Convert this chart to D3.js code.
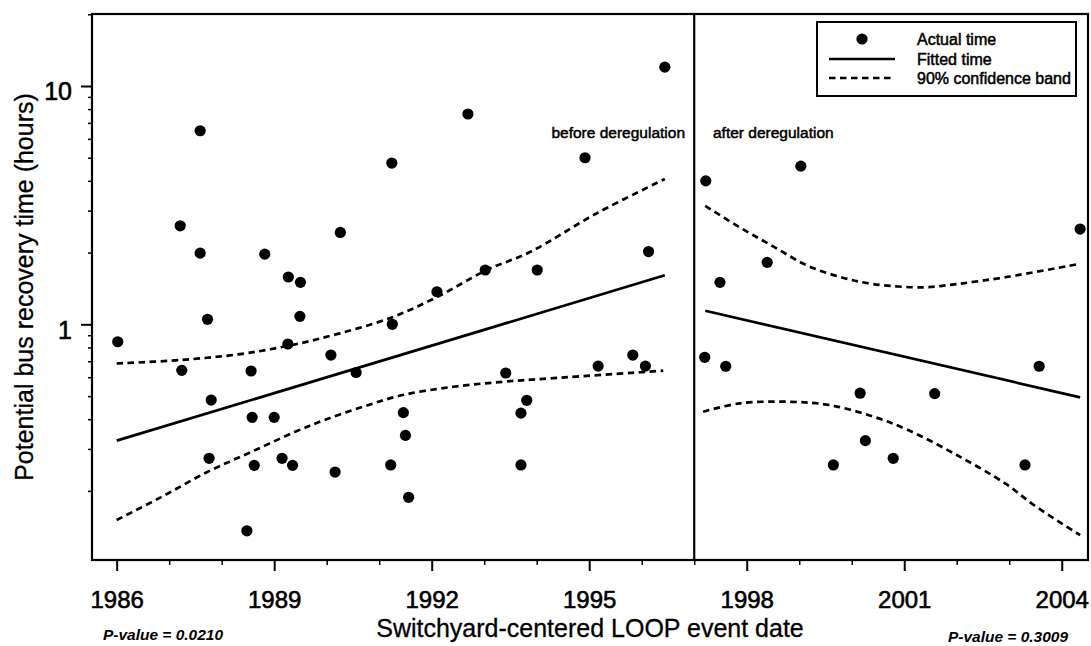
<!DOCTYPE html>
<html>
<head>
<meta charset="utf-8">
<script src="https://cdn.jsdelivr.net/npm/d3@7"></script>
<style>
  html, body { margin: 0; padding: 0; background: #fff; }
  svg { display: block; }
  text { font-family: "Liberation Sans", Arial, Helvetica, sans-serif; fill: #000; }
</style>
</head>
<body>
<svg id="chart" width="1091" height="646"></svg>
<script>
// Observed recovery times, before deregulation (event year, hours)
const beforeYears = [1986.02, 1987.24, 1987.21, 1987.59, 1987.59, 1987.73, 1987.80, 1987.76, 1988.56, 1988.58,
  1988.62, 1988.48, 1988.82, 1989.00, 1989.15, 1989.27, 1989.26, 1989.35, 1989.50, 1989.49,
  1990.08, 1990.16, 1990.26, 1990.56, 1991.24, 1991.25, 1991.22, 1991.46, 1991.50, 1991.56,
  1992.10, 1992.69, 1993.02, 1993.41, 1993.70, 1993.81, 1993.70, 1994.01, 1994.92, 1995.17,
  1995.83, 1996.07, 1996.13, 1996.44];
const beforeHours = [0.845, 0.641, 2.59, 6.49, 1.99, 1.05, 0.481, 0.274, 0.637, 0.407,
  0.256, 0.136, 1.97, 0.407, 0.274, 1.58, 0.827, 0.256, 1.50, 1.08,
  0.743, 0.240, 2.43, 0.628, 4.75, 1.00, 0.257, 0.426, 0.342, 0.188,
  1.37, 7.63, 1.69, 0.625, 0.424, 0.480, 0.257, 1.69, 5.00, 0.668,
  0.743, 0.668, 2.02, 12.0];

// Observed recovery times, after deregulation
const afterYears = [1997.22, 1997.20, 1997.49, 1997.60, 1998.39, 1999.03, 1999.65, 2000.16, 2000.26, 2000.79,
  2001.58, 2003.30, 2003.57, 2004.35];
const afterHours = [4.00, 0.727, 1.50, 0.667, 1.82, 4.61, 0.257, 0.514, 0.325, 0.274,
  0.512, 0.257, 0.667, 2.51];

// Fitted trends
const fitBeforeYears = [1986.0, 1996.44];
const fitBeforeHours = [0.325, 1.606];
const fitAfterYears = [1997.21, 2004.35];
const fitAfterHours = [1.14, 0.494];

// 90% confidence bands
const upperBeforeYears = [1986.0, 1987.21, 1988.35, 1989.15, 1989.91, 1991.21, 1992.10, 1993.05, 1993.87, 1995.15, 1996.44];
const upperBeforeHours = [0.685, 0.708, 0.750, 0.803, 0.876, 1.063, 1.302, 1.69, 2.01, 2.93, 4.07];
const lowerBeforeYears = [1986.0, 1986.86, 1987.74, 1988.57, 1989.40, 1989.96, 1990.69, 1991.45, 1992.41, 1993.36, 1994.25, 1996.41];
const lowerBeforeHours = [0.151, 0.189, 0.241, 0.292, 0.354, 0.397, 0.451, 0.505, 0.547, 0.574, 0.593, 0.639];
const upperAfterYears = [1997.21, 1997.87, 1998.51, 1999.14, 1999.78, 2000.41, 2001.36, 2002.00, 2002.95, 2004.29];
const upperAfterHours = [3.14, 2.55, 2.12, 1.77, 1.58, 1.476, 1.43, 1.476, 1.58, 1.785];
const lowerAfterYears = [1997.17, 1997.87, 1998.83, 1999.59, 2000.41, 2001.05, 2002.00, 2002.95, 2003.46, 2004.35];
const lowerAfterHours = [0.430, 0.466, 0.473, 0.458, 0.410, 0.362, 0.283, 0.213, 0.175, 0.1305];

// Axis ticks
const xMajorTicks = [1986, 1989, 1992, 1995, 1998, 2001, 2004];
const xMinorTicks = [1987, 1988, 1990, 1991, 1993, 1994, 1996, 1997, 1999, 2000, 2002, 2003];
const yMajorTicks = [1, 10];
const yMinorTicks = [0.2, 0.3, 0.4, 0.5, 0.6, 0.7, 0.8, 0.9, 2, 3, 4, 5, 6, 7, 8, 9, 20];
const breakYear = 1997;

const legendLabels = ["Actual time", "Fitted time", "90% confidence band"];

(function draw() {
  const svg = d3.select("#chart");
  const m = { left: 92, right: 1088, top: 14, bottom: 560 };

  const x = d3.scaleLinear().domain([1985.53, 2004.5]).range([m.left, m.right]);
  const y = d3.scaleLog().domain([0.1026, 20.05]).range([m.bottom, m.top]);

  const ink = "#000";
  const font = '"Liberation Sans", Arial, sans-serif';

  // x axis ticks
  const gx = svg.append("g").attr("transform", `translate(0,${m.bottom})`);
  gx.call(d3.axisBottom(x).tickValues(xMajorTicks).tickSize(11).tickFormat(d3.format("d")));
  gx.select(".domain").remove();
  gx.selectAll(".tick line").attr("stroke", ink).attr("stroke-width", 2);
  gx.selectAll(".tick text").attr("font-size", 24).attr("y", 48).attr("dy", 0)
    .attr("fill", ink).attr("stroke", ink).attr("stroke-width", 0.6).style("font-family", font);

  const gxm = svg.append("g").attr("transform", `translate(0,${m.bottom})`);
  gxm.call(d3.axisBottom(x).tickValues(xMinorTicks).tickSize(5).tickFormat(""));
  gxm.select(".domain").remove();
  gxm.selectAll(".tick line").attr("stroke", ink).attr("stroke-width", 1.5);

  // y axis ticks
  const gy = svg.append("g").attr("transform", `translate(${m.left},0)`);
  gy.call(d3.axisLeft(y).tickValues(yMajorTicks).tickSize(11).tickFormat(d3.format("d")));
  gy.select(".domain").remove();
  gy.selectAll(".tick line").attr("stroke", ink).attr("stroke-width", 2);
  gy.selectAll(".tick text").attr("font-size", 25).attr("x", -20).attr("dy", "0.55em")
    .attr("fill", ink).attr("stroke", ink).attr("stroke-width", 0.6).style("font-family", font);

  const gym = svg.append("g").attr("transform", `translate(${m.left},0)`);
  gym.call(d3.axisLeft(y).tickValues(yMinorTicks).tickSize(4).tickFormat(""));
  gym.select(".domain").remove();
  gym.selectAll(".tick line").attr("stroke", ink).attr("stroke-width", 1.5);

  // plot frame and period divider
  svg.append("rect").attr("x", m.left).attr("y", m.top)
    .attr("width", m.right - m.left).attr("height", m.bottom - m.top)
    .attr("fill", "none").attr("stroke", ink).attr("stroke-width", 2.2);
  svg.append("line").attr("x1", x(breakYear)).attr("x2", x(breakYear))
    .attr("y1", m.top).attr("y2", m.bottom)
    .attr("stroke", ink).attr("stroke-width", 2.2);

  // fitted lines and confidence bands
  const line = d3.line().x(d => x(d[0])).y(d => y(d[1])).curve(d3.curveCatmullRom.alpha(0.5));
  function drawLine(xs, ys, dashed) {
    svg.append("path").datum(d3.zip(xs, ys)).attr("d", line)
      .attr("fill", "none").attr("stroke", ink).attr("stroke-width", 2.7)
      .attr("stroke-dasharray", dashed ? "6.5,4.5" : null);
  }
  drawLine(fitBeforeYears, fitBeforeHours, false);
  drawLine(fitAfterYears, fitAfterHours, false);
  drawLine(upperBeforeYears, upperBeforeHours, true);
  drawLine(lowerBeforeYears, lowerBeforeHours, true);
  drawLine(upperAfterYears, upperAfterHours, true);
  drawLine(lowerAfterYears, lowerAfterHours, true);

  // observed points
  const pts = d3.zip(beforeYears, beforeHours).concat(d3.zip(afterYears, afterHours));
  svg.append("g").selectAll("circle").data(pts).join("circle")
    .attr("cx", d => x(d[0])).attr("cy", d => y(d[1])).attr("r", 5.6).attr("fill", ink);

  // period labels
  svg.append("text").attr("x", 685).attr("y", 133).attr("dy", "0.35em").attr("text-anchor", "end")
    .attr("font-size", 15.5).attr("stroke", ink).attr("stroke-width", 0.5).text("before deregulation");
  svg.append("text").attr("x", 713).attr("y", 133).attr("dy", "0.35em")
    .attr("font-size", 15.5).attr("stroke", ink).attr("stroke-width", 0.5).text("after deregulation");

  // legend
  const lg = svg.append("g");
  lg.append("rect").attr("x", 817).attr("y", 22).attr("width", 259).attr("height", 74)
    .attr("fill", "#fff").attr("stroke", ink).attr("stroke-width", 2);
  const rows = [39, 59, 78];
  lg.append("circle").attr("cx", 862).attr("cy", rows[0]).attr("r", 5.6).attr("fill", ink);
  lg.append("line").attr("x1", 829).attr("x2", 895).attr("y1", rows[1]).attr("y2", rows[1])
    .attr("stroke", ink).attr("stroke-width", 2.7);
  lg.append("line").attr("x1", 829).attr("x2", 895).attr("y1", rows[2]).attr("y2", rows[2])
    .attr("stroke", ink).attr("stroke-width", 2.7).attr("stroke-dasharray", "6.5,4.5");
  lg.selectAll("text.lab").data(legendLabels).join("text").attr("class", "lab")
    .attr("x", 917).attr("y", (d, i) => rows[i]).attr("dy", "0.35em")
    .attr("font-size", 16).attr("stroke", ink).attr("stroke-width", 0.5).text(d => d);

  // axis titles
  svg.append("text").attr("x", (m.left + m.right) / 2).attr("y", 637).attr("text-anchor", "middle")
    .attr("font-size", 25).attr("stroke", ink).attr("stroke-width", 0.3).text("Switchyard-centered LOOP event date");
  svg.append("text").attr("transform", `translate(33,${(m.top + m.bottom) / 2}) rotate(-90)`)
    .attr("text-anchor", "middle").attr("font-size", 25).attr("stroke", ink).attr("stroke-width", 0.3)
    .text("Potential bus recovery time (hours)");

  // p-values
  svg.append("text").attr("x", 163).attr("y", 640).attr("text-anchor", "middle")
    .attr("font-size", 15.5).attr("font-style", "italic").attr("font-weight", "bold").text("P-value = 0.0210");
  svg.append("text").attr("x", 1008).attr("y", 642).attr("text-anchor", "middle")
    .attr("font-size", 15.5).attr("font-style", "italic").attr("font-weight", "bold").text("P-value = 0.3009");
})();
</script>
</body>
</html>
